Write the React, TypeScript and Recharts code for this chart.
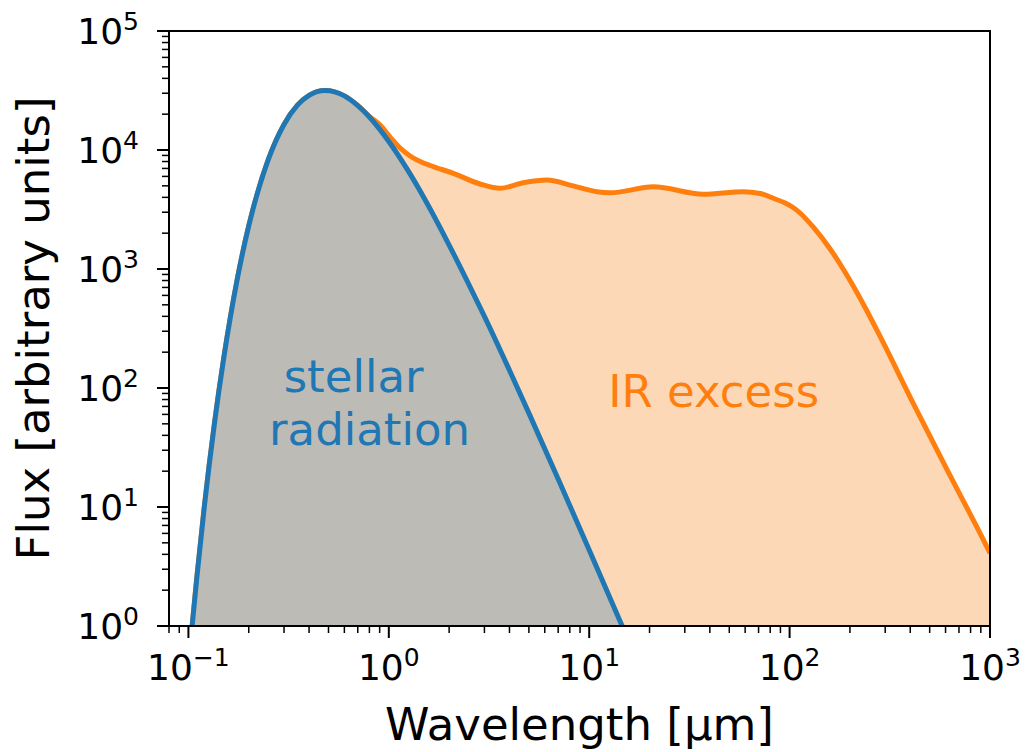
import { ComposedChart, Area, XAxis, YAxis, ReferenceArea, ReferenceDot } from 'recharts'

// stellar (blue) spectrum
const stellarWavelength = [0.1, 0.104, 0.11, 0.12, 0.135, 0.15, 0.175, 0.2, 0.25, 0.3, 0.35, 0.4, 0.48, 0.6, 0.7, 0.8, 1.0, 1.25, 1.5, 2, 2.5, 3, 4, 5, 7, 10, 14.6, 17]
const stellarFlux = [0.46, 0.94, 2.5, 10, 51, 177, 810, 2300, 8260, 16400, 23800, 28800, 31600, 28500, 23600, 18950, 11800, 6670, 3950, 1590, 750, 400, 141, 61.5, 17.2, 4.36, 1.0, 0.55]

// total (orange) = star + IR excess
const totalWavelength = [
  0.1, 0.104, 0.11, 0.12, 0.135, 0.15, 0.175, 0.2, 0.25, 0.3, 0.35, 0.4, 0.48, 0.6, 0.7, 0.8,
  0.905, 1.015, 1.139, 1.277, 1.433, 1.607, 2.094, 2.855, 3.59, 4.68, 6.16, 8.32, 10.9, 12.7,
  20.9, 37.1, 58.5, 71.3, 84.7, 95, 104.1, 112.8, 131, 159.3, 193.6, 238.1, 282.9, 413.3, 611, 892.6, 1000,
]
const totalFlux = [
  0.46, 0.94, 2.5, 10, 51, 177, 810, 2300, 8260, 16400, 23800, 28800, 31600, 28500, 23700, 19200,
  16220, 12850, 10390, 8905, 8006, 7408, 6372, 5180, 4760, 5310, 5600, 4990, 4460, 4370,
  4900, 4250, 4460, 4310, 3875, 3586, 3287, 2955, 2254, 1473, 882, 475, 271, 74.8, 20.5, 6.0, 4.1,
]

const xMajorTicks = [0.1, 1, 10, 100, 1000]
const xMinorTicks = [
  0.08, 0.09,
  0.2, 0.3, 0.4, 0.5, 0.6, 0.7, 0.8, 0.9,
  2, 3, 4, 5, 6, 7, 8, 9,
  20, 30, 40, 50, 60, 70, 80, 90,
  200, 300, 400, 500, 600, 700, 800, 900,
]
const yMajorTicks = [1, 10, 100, 1000, 10000, 100000]
const yMinorTicks = [
  2, 3, 4, 5, 6, 7, 8, 9,
  20, 30, 40, 50, 60, 70, 80, 90,
  200, 300, 400, 500, 600, 700, 800, 900,
  2000, 3000, 4000, 5000, 6000, 7000, 8000, 9000,
  20000, 30000, 40000, 50000, 60000, 70000, 80000, 90000,
]

const BLUE = '#1f77b4'
const ORANGE = '#ff7f0e'
const FONT = 'DejaVu Sans, sans-serif'

const stellarData = stellarWavelength.map((wl, i) => ({ wl, flux: stellarFlux[i] }))
const totalData = totalWavelength.map((wl, i) => ({ wl, flux: totalFlux[i] }))

const expLabel = (v: number) => {
  const e = Math.round(Math.log10(v))
  return e < 0 ? '\u2212' + Math.abs(e) : String(e)
}

function XTick(props: any) {
  const { x, y, payload } = props
  const major = xMajorTicks.includes(payload.value)
  return (
    <g>
      <line x1={x} x2={x} y1={y} y2={y + (major ? 12 : 7)} stroke="#000" strokeWidth={major ? 2 : 1.5} />
      {major && (
        <text x={x} y={y + 54} textAnchor="middle" fontFamily={FONT} fontSize={36} fill="#000">
          10<tspan dy={-14} fontSize={25}>{expLabel(payload.value)}</tspan>
        </text>
      )}
    </g>
  )
}

function YTick(props: any) {
  const { x, y, payload } = props
  const major = yMajorTicks.includes(payload.value)
  return (
    <g>
      <line x1={x - (major ? 12 : 7)} x2={x} y1={y} y2={y} stroke="#000" strokeWidth={major ? 2 : 1.5} />
      {major && (
        <text x={x - 30} y={y + 13} textAnchor="end" fontFamily={FONT} fontSize={36} fill="#000">
          10<tspan dy={-14} fontSize={25}>{expLabel(payload.value)}</tspan>
        </text>
      )}
    </g>
  )
}

// annotation anchors (data coords of the first line's centre / baseline)
const annotations = [
  { lines: ['stellar', 'radiation'], wl: 0.667, flux: 92.5, color: BLUE },
  { lines: ['IR excess'], wl: 41.8, flux: 69, color: ORANGE },
]

export default function App() {
  return (
    <div style={{ position: 'absolute', left: 0, top: 0, background: '#fff' }}>
      <ComposedChart width={1026} height={752} margin={{ top: 31, right: 36, bottom: 26, left: 0 }}>
        <XAxis
          dataKey="wl"
          type="number"
          scale="log"
          domain={[0.08, 1000]}
          allowDataOverflow
          ticks={[...xMinorTicks, ...xMajorTicks]}
          interval={0}
          tick={<XTick />}
          tickLine={false}
          tickSize={0}
          tickMargin={0}
          axisLine={false}
          height={100}
          label={(p: any) => {
            const vb = p.viewBox
            return (
              <text x={vb.x + vb.width / 2} y={740} textAnchor="middle" fontFamily={FONT} fontSize={45} fill="#000">
                Wavelength [µm]
              </text>
            )
          }}
        />
        <YAxis
          dataKey="flux"
          type="number"
          scale="log"
          domain={[1, 100000]}
          allowDataOverflow
          ticks={[...yMinorTicks, ...yMajorTicks]}
          interval={0}
          tick={<YTick />}
          tickLine={false}
          tickSize={0}
          tickMargin={0}
          axisLine={false}
          width={169}
          label={(p: any) => {
            const vb = p.viewBox
            const cy = vb.y + vb.height / 2
            return (
              <text x={49} y={cy} transform={`rotate(-90, 49, ${cy})`} textAnchor="middle" fontFamily={FONT} fontSize={45} fill="#000">
                Flux [arbitrary units]
              </text>
            )
          }}
        />
        <Area
          data={totalData}
          dataKey="flux"
          type="monotone"
          baseValue={1}
          fill="#fdd8b6"
          fillOpacity={1}
          stroke={ORANGE}
          strokeWidth={5}
          isAnimationActive={false}
        />
        <Area
          data={stellarData}
          dataKey="flux"
          type="monotone"
          baseValue={1}
          fill="#bcbbb6"
          fillOpacity={1}
          stroke={BLUE}
          strokeWidth={5}
          isAnimationActive={false}
        />
        {annotations.map(a => (
          <ReferenceDot
            key={a.lines[0]}
            x={a.wl}
            y={a.flux}
            r={0}
            fill="none"
            stroke="none"
            label={(p: any) => (
              <text x={p.viewBox.x} y={p.viewBox.y} textAnchor="middle" fontFamily={FONT} fontSize={45} fill={a.color}>
                {a.lines.map((line, i) => (
                  <tspan key={line} x={p.viewBox.x + i * 16} dy={i === 0 ? 0 : 53}>
                    {line}
                  </tspan>
                ))}
              </text>
            )}
          />
        ))}
        <ReferenceArea x1={0.08} x2={1000} y1={1} y2={100000} fill="none" stroke="#000" strokeWidth={2} />
      </ComposedChart>
    </div>
  )
}
